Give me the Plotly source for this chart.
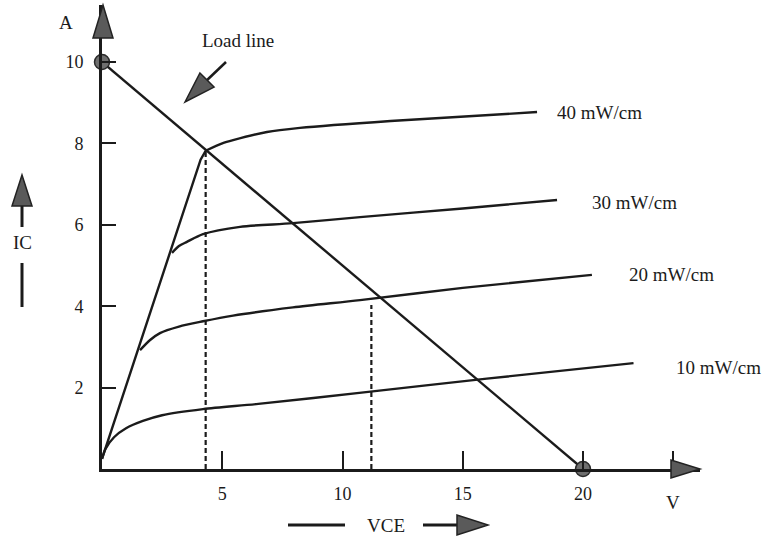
import plotly.graph_objects as go

# ---------------- data ----------------
vce_10 = [0.0, 0.15, 0.5, 1.0, 1.7, 2.5, 4.2, 6.5, 10.7, 16.0, 22.1]
ic_10 = [0.25, 0.5, 0.78, 1.0, 1.18, 1.32, 1.47, 1.6, 1.87, 2.22, 2.6]

vce_20 = [1.58, 2.0, 2.41, 3.2, 4.2, 5.45, 7.94, 10.73, 15.0, 20.37]
ic_20 = [2.92, 3.17, 3.34, 3.5, 3.63, 3.77, 3.97, 4.15, 4.45, 4.77]

vce_30 = [2.91, 3.2, 3.53, 4.2, 5.74, 7.94, 10.73, 15.0, 18.92]
ic_30 = [5.31, 5.48, 5.58, 5.77, 5.95, 6.04, 6.19, 6.4, 6.61]

vce_40 = [4.31, 5.0, 5.45, 6.86, 8.23, 12.0, 18.09]
ic_40 = [7.82, 8.0, 8.08, 8.28, 8.38, 8.55, 8.77]

vce_sat = [0.0, 4.1, 4.31]
ic_sat = [0.25, 7.6, 7.82]

load_vce = [0.0, 20.0]
load_ic = [10.0, 0.0]

q_vce = [4.31, 11.2]
q_ic = [7.82, 4.03]

curve_labels = ["10 mW/cm", "20 mW/cm", "30 mW/cm", "40 mW/cm"]
x_tickvals = [5, 10, 15, 20, 23.75]
x_ticktext = ["5", "10", "15", "20", ""]
y_tickvals = [2, 4, 6, 8, 10]

# ---------------- layout geometry ----------------
W, H = 764, 538
ML, MR, MT, MB = 102, 64, 5, 69
PW, PH = W - ML - MR, H - MT - MB
X_PER = 24.05
Y_PER = 40.7
XMAX = PW / X_PER
YMAX = PH / Y_PER

INK = "#1b1b1b"
FONT = "Liberation Serif"


def pp(px, py):
    """pixel position of the page -> paper coordinates"""
    return (px - ML) / PW, (H - MB - py) / PH


def tri_path(tip, base_c, half):
    tx, ty = tip
    bx, by = base_c
    dx, dy = tx - bx, ty - by
    L = (dx * dx + dy * dy) ** 0.5
    nx, ny = -dy / L, dx / L
    pts = [tip, (bx + nx * half, by + ny * half), (bx - nx * half, by - ny * half)]
    s = ""
    for i, (x, y) in enumerate(pts):
        a, b = pp(x, y)
        s += ("M" if i == 0 else "L") + f"{a:.5f},{b:.5f} "
    return s + "Z"


fig = go.Figure()

line_style = dict(color=INK, width=2.4)
for vx, vy in [(vce_10, ic_10), (vce_20, ic_20), (vce_30, ic_30), (vce_40, ic_40)]:
    fig.add_trace(go.Scatter(x=vx, y=vy, mode="lines",
                             line=dict(color=INK, width=2.4, shape="spline", smoothing=0.8),
                             hoverinfo="skip", showlegend=False))
fig.add_trace(go.Scatter(x=vce_sat, y=ic_sat, mode="lines", line=line_style,
                         hoverinfo="skip", showlegend=False))
fig.add_trace(go.Scatter(x=load_vce, y=load_ic, mode="lines", line=line_style,
                         hoverinfo="skip", showlegend=False))
# dashed verticals at the operating points
for qx, qy in zip(q_vce, q_ic):
    fig.add_trace(go.Scatter(x=[qx, qx], y=[0, qy], mode="lines",
                             line=dict(color=INK, width=2.2, dash="5px,3px"),
                             hoverinfo="skip", showlegend=False))
# end points of the load line
fig.add_trace(go.Scatter(x=load_vce, y=load_ic, mode="markers",
                         marker=dict(size=15, color="#6e6e6e", line=dict(color="#2a2a2a", width=1.5)),
                         cliponaxis=False, hoverinfo="skip", showlegend=False))

# curve labels anchored to each curve's end
ends = [(vce_10, ic_10, 40, -4), (vce_20, ic_20, 35, 0), (vce_30, ic_30, 33, -3), (vce_40, ic_40, 18, 0)]
annotations = []
for lab, (vx, vy, dx, dy) in zip(curve_labels, ends):
    annotations.append(dict(x=vx[-1], y=vy[-1], xref="x", yref="y", text=lab, showarrow=False,
                            xanchor="left", yanchor="middle", xshift=dx, yshift=dy,
                            font=dict(family=FONT, size=19, color=INK)))


def txt(s, px, py, size=19, xanchor="center"):
    x, y = pp(px, py)
    annotations.append(dict(x=x, y=y, xref="paper", yref="paper", text=s, showarrow=False,
                            xanchor=xanchor, yanchor="middle",
                            font=dict(family=FONT, size=size, color=INK)))


txt("A", 66, 22)
txt("V", 673, 502)
txt("IC", 22, 242)
txt("VCE", 386, 525)
txt("Load line", 238, 40)

shapes = []


def seg(p0, p1, w=2.5):
    a, b = pp(*p0)
    c, d = pp(*p1)
    shapes.append(dict(type="line", xref="paper", yref="paper", x0=a, y0=b, x1=c, y1=d,
                       line=dict(color=INK, width=w)))


def head(tip, base, half):
    shapes.append(dict(type="path", xref="paper", yref="paper", path=tri_path(tip, base, half),
                       fillcolor="#5a5a5a", line=dict(color="#222222", width=1.5)))


# axis arrowheads
head((103, 5), (103, 38), 10)
head((700, 469), (671, 469), 9)
# IC arrow and bar
seg((22, 205), (22, 227), 3)
head((22, 175), (22, 206), 10)
seg((22, 263), (22, 307), 3)
# VCE
seg((288, 525), (345, 525), 3)
seg((423, 525), (458, 525), 3)
head((488, 525), (457, 525), 10)
# load line pointer
seg((226, 62), (205, 82), 2.5)
head((185, 102), (207, 80), 10)

fig.update_layout(
    width=W, height=H,
    margin=dict(l=ML, r=MR, t=MT, b=MB, pad=0),
    paper_bgcolor="white", plot_bgcolor="white",
    showlegend=False,
    annotations=annotations,
    shapes=shapes,
    xaxis=dict(range=[0, XMAX], showgrid=False, zeroline=False, showline=True,
               linecolor=INK, linewidth=3, ticks="inside", ticklen=18, tickwidth=2.2,
               tickcolor=INK, tickvals=x_tickvals, ticktext=x_ticktext,
               tickfont=dict(family=FONT, size=18, color=INK), ticklabelstandoff=6,
               fixedrange=True),
    yaxis=dict(range=[0, YMAX], showgrid=False, zeroline=False, showline=True,
               linecolor=INK, linewidth=3, ticks="inside", ticklen=14, tickwidth=2.2,
               tickcolor=INK, tickvals=y_tickvals,
               tickfont=dict(family=FONT, size=18, color=INK), ticklabelstandoff=12,
               fixedrange=True),
)

fig.write_html("out.html", config={"displayModeBar": False},
               post_script="document.body.style.margin='0';document.body.style.overflow='hidden';")
